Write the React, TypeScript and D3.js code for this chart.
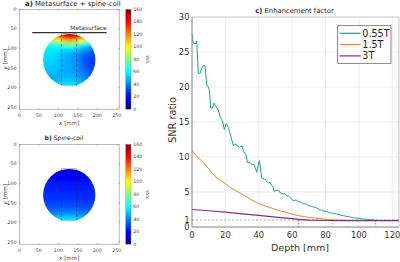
import React from 'react';
import * as d3 from 'd3';

// ---------- image panel data ----------
const gridX = [60, 70, 80, 90, 100, 110, 120, 130, 140, 150, 160, 170, 180, 190, 200];
const gridY = [60, 70, 80, 90, 100, 110, 120, 130, 140, 150, 160, 170, 180, 190, 200];

const snrMetasurface = [
  [118, 122, 126, 130, 136, 142, 148, 152, 150, 146, 140, 134, 128, 122, 118],
  [100, 104, 108, 114, 122, 132, 142, 146, 144, 136, 126, 116, 108, 102, 98],
  [78, 80, 84, 90, 98, 106, 112, 114, 112, 106, 98, 90, 84, 78, 74],
  [62, 63, 64, 66, 70, 74, 78, 80, 78, 74, 68, 62, 58, 54, 52],
  [57, 58, 58, 58, 58, 58, 58, 58, 56, 54, 50, 46, 42, 40, 38],
  [56, 56, 56, 55, 54, 52, 51, 50, 48, 46, 42, 38, 35, 33, 32],
  [55, 55, 55, 54, 52, 50, 48, 47, 45, 42, 38, 34, 31, 30, 30],
  [54, 54, 54, 53, 51, 49, 47, 46, 44, 41, 37, 33, 30, 29, 29],
  [53, 53, 53, 52, 50, 48, 47, 46, 44, 41, 37, 33, 30, 29, 29],
  [52, 52, 52, 51, 50, 48, 47, 46, 44, 41, 38, 34, 31, 30, 30],
  [50, 50, 50, 50, 49, 48, 47, 47, 45, 43, 40, 36, 33, 32, 32],
  [48, 48, 48, 48, 48, 48, 48, 48, 47, 45, 42, 39, 36, 35, 35],
  [47, 47, 47, 48, 49, 50, 51, 51, 50, 48, 45, 42, 40, 39, 39],
  [48, 48, 48, 50, 52, 54, 55, 55, 54, 52, 49, 46, 44, 43, 43],
  [50, 50, 50, 52, 54, 56, 58, 58, 57, 55, 52, 49, 47, 46, 46],
];

const snrSpine = [
  [17, 17, 16, 16, 15, 15, 14, 14, 14, 15, 15, 16, 16, 17, 17],
  [19, 19, 18, 18, 17, 17, 16, 16, 16, 17, 17, 18, 18, 19, 19],
  [21, 21, 20, 20, 19, 19, 19, 19, 19, 19, 20, 20, 21, 21, 21],
  [23, 23, 22, 22, 21, 21, 21, 21, 21, 21, 22, 22, 22, 23, 23],
  [24, 24, 24, 23, 23, 23, 23, 23, 23, 23, 23, 23, 24, 24, 24],
  [25, 25, 25, 25, 24, 24, 24, 24, 24, 24, 24, 24, 25, 25, 25],
  [26, 26, 26, 26, 26, 25, 25, 25, 25, 25, 25, 25, 26, 26, 26],
  [27, 27, 27, 27, 27, 27, 27, 27, 27, 27, 26, 26, 26, 27, 27],
  [28, 28, 28, 28, 28, 28, 28, 28, 28, 28, 28, 27, 27, 28, 28],
  [30, 30, 30, 30, 30, 30, 30, 30, 30, 30, 30, 29, 29, 29, 30],
  [33, 33, 33, 33, 33, 33, 33, 33, 33, 33, 32, 32, 32, 32, 32],
  [37, 37, 37, 37, 37, 38, 38, 38, 38, 37, 36, 36, 35, 35, 35],
  [42, 42, 42, 43, 44, 44, 45, 45, 44, 43, 42, 41, 40, 40, 40],
  [48, 48, 49, 50, 52, 53, 54, 54, 53, 52, 50, 48, 47, 46, 46],
  [54, 54, 55, 56, 58, 59, 60, 60, 59, 58, 56, 54, 52, 52, 52],
];

const imgTicks = [0, 50, 100, 150, 200, 250];
const cbTicks = [0, 20, 40, 60, 80, 100, 120, 140, 160];
const phantomCx = 128;
const phantomCy = 130;
const phantomR = 67;
const roiX = [108, 147];
const roiY = [63, 195];
const metaX = [33, 224];
const metaY = 60;

// ---------- enhancement factor data ----------
const depthTicks = [0, 20, 40, 60, 80, 100, 120];
const ratioTicks = [0, 1, 5, 10, 15, 20, 25, 30];
const ratioGrid = [5, 10, 15, 20, 25];

const ratio055: [number, number][] = [
  [0, 27.7], [0.8, 26.2], [2.4, 26.2], [2.8, 26.6], [3.8, 22.0], [4.8, 21.9], [5.8, 22.7], [6.8, 23.1],
  [7.8, 23.0], [8.8, 20.3], [9.8, 20.0], [10.4, 19.6], [11.2, 17.0], [12.4, 17.0], [13.2, 17.7], [14.4, 17.2],
  [15.8, 16.7], [16.8, 15.8], [18.4, 15.0], [19.4, 13.9], [20.4, 14.8], [21.8, 14.2], [23.2, 13.0], [24.8, 11.6],
  [25.8, 11.9], [27.2, 11.6], [28.4, 11.4], [29.8, 11.6], [30.8, 10.9], [32.4, 10.3], [33.2, 9.2], [34.8, 9.2],
  [35.8, 8.9], [36.8, 9.0], [37.8, 8.5], [38.8, 7.8], [39.8, 9.0], [40.4, 9.5], [41.2, 8.0], [41.8, 7.0],
  [43.8, 6.8], [44.8, 6.5], [45.8, 6.3], [46.8, 6.4], [47.8, 5.9], [48.5, 5.7], [49.2, 5.1], [50.5, 5.2],
  [51.8, 5.3], [52.8, 4.9], [54.8, 4.7], [55.8, 4.75], [56.8, 4.4], [57.8, 4.45], [58.8, 4.2], [59.8, 4.0],
  [60.8, 3.7], [61.8, 3.85], [62.8, 3.8], [63.8, 3.6], [64.8, 3.6], [65.8, 3.45], [66.8, 3.3], [67.8, 3.35],
  [68.8, 3.2], [69.8, 3.05], [70.8, 3.0], [71.8, 2.95], [72.8, 2.8], [73.8, 2.85], [74.8, 2.7], [75.8, 2.55],
  [76.8, 2.4], [77.8, 2.45], [78.8, 2.3], [80.8, 2.2], [82.8, 2.05], [84.8, 1.9], [86.8, 1.85], [88.8, 1.7],
  [90.8, 1.62], [92.8, 1.5], [94.8, 1.42], [96.8, 1.33], [98.8, 1.25], [100.8, 1.19], [102.8, 1.14],
  [104.8, 1.1], [106.8, 1.05], [108.8, 1.0], [110.8, 0.97], [112.8, 0.95], [116, 0.95], [120, 0.95], [124, 0.97],
];

const ratio15: [number, number][] = [
  [0, 11.0], [2, 10.3], [5, 9.6], [8, 8.9], [11, 8.0], [13, 7.5], [15, 7.0], [17, 6.7], [20, 6.2], [23, 5.6],
  [26, 5.2], [29, 4.85], [32, 4.4], [35, 3.95], [38, 3.6], [41, 3.24], [44, 3.0], [47, 2.76], [50, 2.5],
  [53, 2.29], [56, 2.1], [59, 1.9], [62, 1.72], [65, 1.57], [68, 1.45], [71, 1.33], [74, 1.25], [77, 1.19],
  [80, 1.12], [84, 1.03], [88, 0.98], [95, 0.95], [105, 0.93], [115, 0.92], [124, 0.92],
];

const ratio3: [number, number][] = [
  [0, 2.5], [10, 2.32], [20, 2.12], [30, 1.88], [40, 1.65], [50, 1.42], [60, 1.2], [64, 1.08], [70, 0.98],
  [80, 0.93], [90, 0.9], [100, 0.9], [110, 0.9], [124, 0.9],
];

const seriesNames = ['0.55T', '1.5T', '3T'];
const seriesColors = ['#1fa396', '#f5822a', '#7e2f8e'];
const crossDepths = [110, 84, 64];

const jet = d3
  .scaleLinear<string>()
  .domain([0, 20, 60, 100, 140, 160])
  .range(['#00007f', '#0000ff', '#00ffff', '#ffff00', '#ff0000', '#7f0000'])
  .clamp(true);

const FONT = 'DejaVu Sans, Verdana, sans-serif';

function ImagePanel(props: {
  id: string;
  top: number;
  grid: number[][];
  titleBold: string;
  title: string;
  titleX: number;
  titleY: number;
  titleSize: number;
  meta: boolean;
}) {
  const { id, top, grid, meta } = props;
  const xs = d3.scaleLinear().domain([0, 256]).range([19.3, 119.2]);
  const ys = d3.scaleLinear().domain([0, 256]).range([top, top + 99.9]);
  const cb = d3.scaleLinear().domain([0, 160]).range([top + 99.9, top]);
  const cellW = xs(10) - xs(0);
  const x0 = xs.range()[0];
  const x1 = xs.range()[1];
  const y0 = ys.range()[0];
  const y1 = ys.range()[1];
  return (
    <g>
      <defs>
        <clipPath id={`clip-${id}`}>
          <ellipse cx={xs(phantomCx)} cy={ys(phantomCy)} rx={xs(phantomR) - xs(0)} ry={ys(phantomR) - ys(0)} />
        </clipPath>
        <filter id={`blur-${id}`} x="-20%" y="-20%" width="140%" height="140%">
          <feGaussianBlur stdDeviation="1.6" />
          <feComponentTransfer>
            <feFuncA type="linear" slope="4" intercept="0" />
          </feComponentTransfer>
        </filter>
        <linearGradient id={`cbg-${id}`} x1="0" y1="1" x2="0" y2="0">
          {d3.range(0, 161, 10).map((v) => (
            <stop key={v} offset={v / 160} stopColor={jet(v)} />
          ))}
        </linearGradient>
      </defs>
      <rect x={x0} y={y0} width={x1 - x0} height={y1 - y0} fill="#fff" />
      <g clipPath={`url(#clip-${id})`}>
        <g filter={`url(#blur-${id})`}>
          {grid.map((row, i) =>
            row.map((v, j) => (
              <rect
                key={`${i}-${j}`}
                x={xs(gridX[j] - 5)}
                y={ys(gridY[i] - 5)}
                width={cellW + 0.3}
                height={cellW + 0.3}
                fill={jet(v)}
              />
            ))
          )}
        </g>
      </g>
      {/* ROI */}
      <line x1={xs(roiX[0])} x2={xs(roiX[1])} y1={ys(roiY[0] - 1)} y2={ys(roiY[0] - 1)} stroke="#c4c4c4" strokeWidth={1} />
      <line x1={xs(roiX[0])} x2={xs(roiX[1])} y1={ys(roiY[1] + 1)} y2={ys(roiY[1] + 1)} stroke="#c4c4c4" strokeWidth={1} />
      {roiX.map((rx) => (
        <line key={rx} x1={xs(rx)} x2={xs(rx)} y1={ys(roiY[0])} y2={ys(roiY[1])} stroke="#2a2a2a" strokeOpacity={0.75} strokeWidth={0.7} strokeDasharray="3,2" />
      ))}
      {meta && (
        <g>
          <line x1={xs(metaX[0])} x2={xs(metaX[1])} y1={ys(metaY)} y2={ys(metaY)} stroke="#333" strokeWidth={1.3} />
          <text x={xs(metaX[1])} y={ys(metaY) - 3} textAnchor="end" fontSize={5.9} fontFamily={FONT} fill="#333">
            Metasurface
          </text>
        </g>
      )}
      {/* frame */}
      <rect x={x0} y={y0} width={x1 - x0} height={y1 - y0} fill="none" stroke="#8c8c8c" strokeWidth={0.6} />
      {imgTicks.map((t) => (
        <g key={t}>
          <line x1={xs(t)} x2={xs(t)} y1={y1} y2={y1 - 1.3} stroke="#777" strokeWidth={0.5} />
          <line x1={xs(t)} x2={xs(t)} y1={y0} y2={y0 + 1.3} stroke="#777" strokeWidth={0.5} />
          <line x1={x0} x2={x0 + 1.3} y1={ys(t)} y2={ys(t)} stroke="#777" strokeWidth={0.5} />
          <line x1={x1} x2={x1 - 1.3} y1={ys(t)} y2={ys(t)} stroke="#777" strokeWidth={0.5} />
          <text x={xs(t)} y={y1 + 7.3} textAnchor="middle" fontSize={4.8} fontFamily={FONT} fill="#444">
            {t}
          </text>
          <text x={x0 - 2.8} y={ys(t)} dy="0.35em" textAnchor="end" fontSize={4.8} fontFamily={FONT} fill="#444">
            {t}
          </text>
        </g>
      ))}
      <text x={(x0 + x1) / 2} y={y1 + 15.6} textAnchor="middle" fontSize={5.6} fontFamily={FONT} fill="#444">
        <tspan fontStyle="italic">x</tspan> [mm]
      </text>
      <text transform={`translate(6.6,${(y0 + y1) / 2}) rotate(-90)`} textAnchor="middle" fontSize={5.6} fontFamily={FONT} fill="#444">
        <tspan fontStyle="italic">y</tspan> [mm]
      </text>
      {/* colorbar */}
      <rect x={125.7} y={y0} width={5.3} height={y1 - y0} fill={`url(#cbg-${id})`} stroke="#8c8c8c" strokeWidth={0.4} />
      {cbTicks.map((t) => (
        <text key={t} x={133.2} y={cb(t)} dy="0.35em" fontSize={4.8} fontFamily={FONT} fill="#444">
          {t}
        </text>
      ))}
      <text transform={`translate(148.5,${(y0 + y1) / 2}) rotate(-90)`} textAnchor="middle" fontSize={4} fontFamily={FONT} fill="#444">
        SNR
      </text>
      {/* title */}
      <text x={props.titleX} y={props.titleY} textAnchor="middle" fontSize={props.titleSize} fontFamily={FONT} fill="#222">
        <tspan fontWeight="bold">{props.titleBold}</tspan> {props.title}
      </text>
    </g>
  );
}

function RatioChart() {
  const xs = d3.scaleLinear().domain([0, 124]).range([192, 399]);
  const ys = d3.scaleLinear().domain([0, 30]).range([227, 17]);
  const line = d3
    .line<[number, number]>()
    .x((d) => xs(d[0]))
    .y((d) => ys(d[1]));
  const allSeries = [ratio055, ratio15, ratio3];
  const [x0, x1] = xs.range();
  const [yb, yt] = ys.range();
  return (
    <g>
      <rect x={x0} y={yt} width={x1 - x0} height={yb - yt} fill="#fff" />
      {depthTicks.slice(1).map((t) => (
        <line key={t} x1={xs(t)} x2={xs(t)} y1={yt} y2={yb} stroke="#e8e8e8" strokeWidth={0.8} />
      ))}
      {ratioGrid.map((t) => (
        <line key={t} x1={x0} x2={x1} y1={ys(t)} y2={ys(t)} stroke="#e8e8e8" strokeWidth={0.8} />
      ))}
      <line x1={x0} x2={x1} y1={ys(1)} y2={ys(1)} stroke="#9a9a9a" strokeWidth={0.9} strokeDasharray="2,2" />
      {crossDepths.map((d, i) => (
        <line key={d} x1={xs(d)} x2={xs(d)} y1={ys(1)} y2={ys(0)} stroke={seriesColors[i]} strokeWidth={0.9} strokeDasharray="1.5,1.5" />
      ))}
      {allSeries.map((s, i) => (
        <path key={i} d={line(s) || ''} fill="none" stroke={seriesColors[i]} strokeWidth={i === 2 ? 1.2 : 1} strokeLinejoin="round" />
      ))}
      <rect x={x0} y={yt} width={x1 - x0} height={yb - yt} fill="none" stroke="#b0b0b0" strokeWidth={0.7} />
      <line x1={x0} x2={x1} y1={yb} y2={yb} stroke="#888" strokeWidth={0.8} />
      <line x1={x0} x2={x0} y1={yt} y2={yb} stroke="#888" strokeWidth={0.8} />
      {ratioTicks.map((t) => (
        <text key={t} x={x0 - 2.5} y={ys(t)} dy="0.36em" textAnchor="end" fontSize={8.4} fontFamily={FONT} fill="#333">
          {t}
        </text>
      ))}
      {depthTicks.map((t) => (
        <text key={t} x={xs(t)} y={yb + 10.6} textAnchor="middle" fontSize={8.4} fontFamily={FONT} fill="#333">
          {t}
        </text>
      ))}
      <text x={300} y={250.5} textAnchor="middle" fontSize={9.5} fontFamily={FONT} fill="#333">
        Depth [mm]
      </text>
      <text transform={`translate(176,120) rotate(-90)`} textAnchor="middle" fontSize={9.8} fontFamily={FONT} fill="#333">
        SNR ratio
      </text>
      <text x={294.5} y={13.3} textAnchor="middle" fontSize={6.8} fontFamily={FONT} fill="#222">
        <tspan fontWeight="bold">c)</tspan> Enhancement factor
      </text>
      {/* legend */}
      <rect x={337.7} y={25.7} width={53.3} height={37.6} fill="#fff" stroke="#555" strokeWidth={0.7} />
      {seriesNames.map((n, i) => (
        <g key={n}>
          <line x1={339.5} x2={360.7} y1={33.3 + i * 11.3} y2={33.3 + i * 11.3} stroke={seriesColors[i]} strokeWidth={1.2} />
          <text x={362.3} y={33.3 + i * 11.3} dy="0.36em" fontSize={9.6} fontFamily={FONT} fill="#222">
            {n}
          </text>
        </g>
      ))}
    </g>
  );
}

export default function App() {
  return (
    <svg width={400} height={262} viewBox="0 0 400 262" style={{ position: 'absolute', left: 0, top: 0, background: '#fff' }}>
      <rect width={400} height={262} fill="#fff" />
      <ImagePanel id="a" top={9.3} grid={snrMetasurface} titleBold="a)" title="Metasurface + spine-coil" titleX={72.8} titleY={5.6} titleSize={6.9} meta={true} />
      <ImagePanel id="b" top={144.3} grid={snrSpine} titleBold="b)" title="Spine-coil" titleX={64} titleY={139.6} titleSize={6.1} meta={false} />
      <RatioChart />
    </svg>
  );
}
